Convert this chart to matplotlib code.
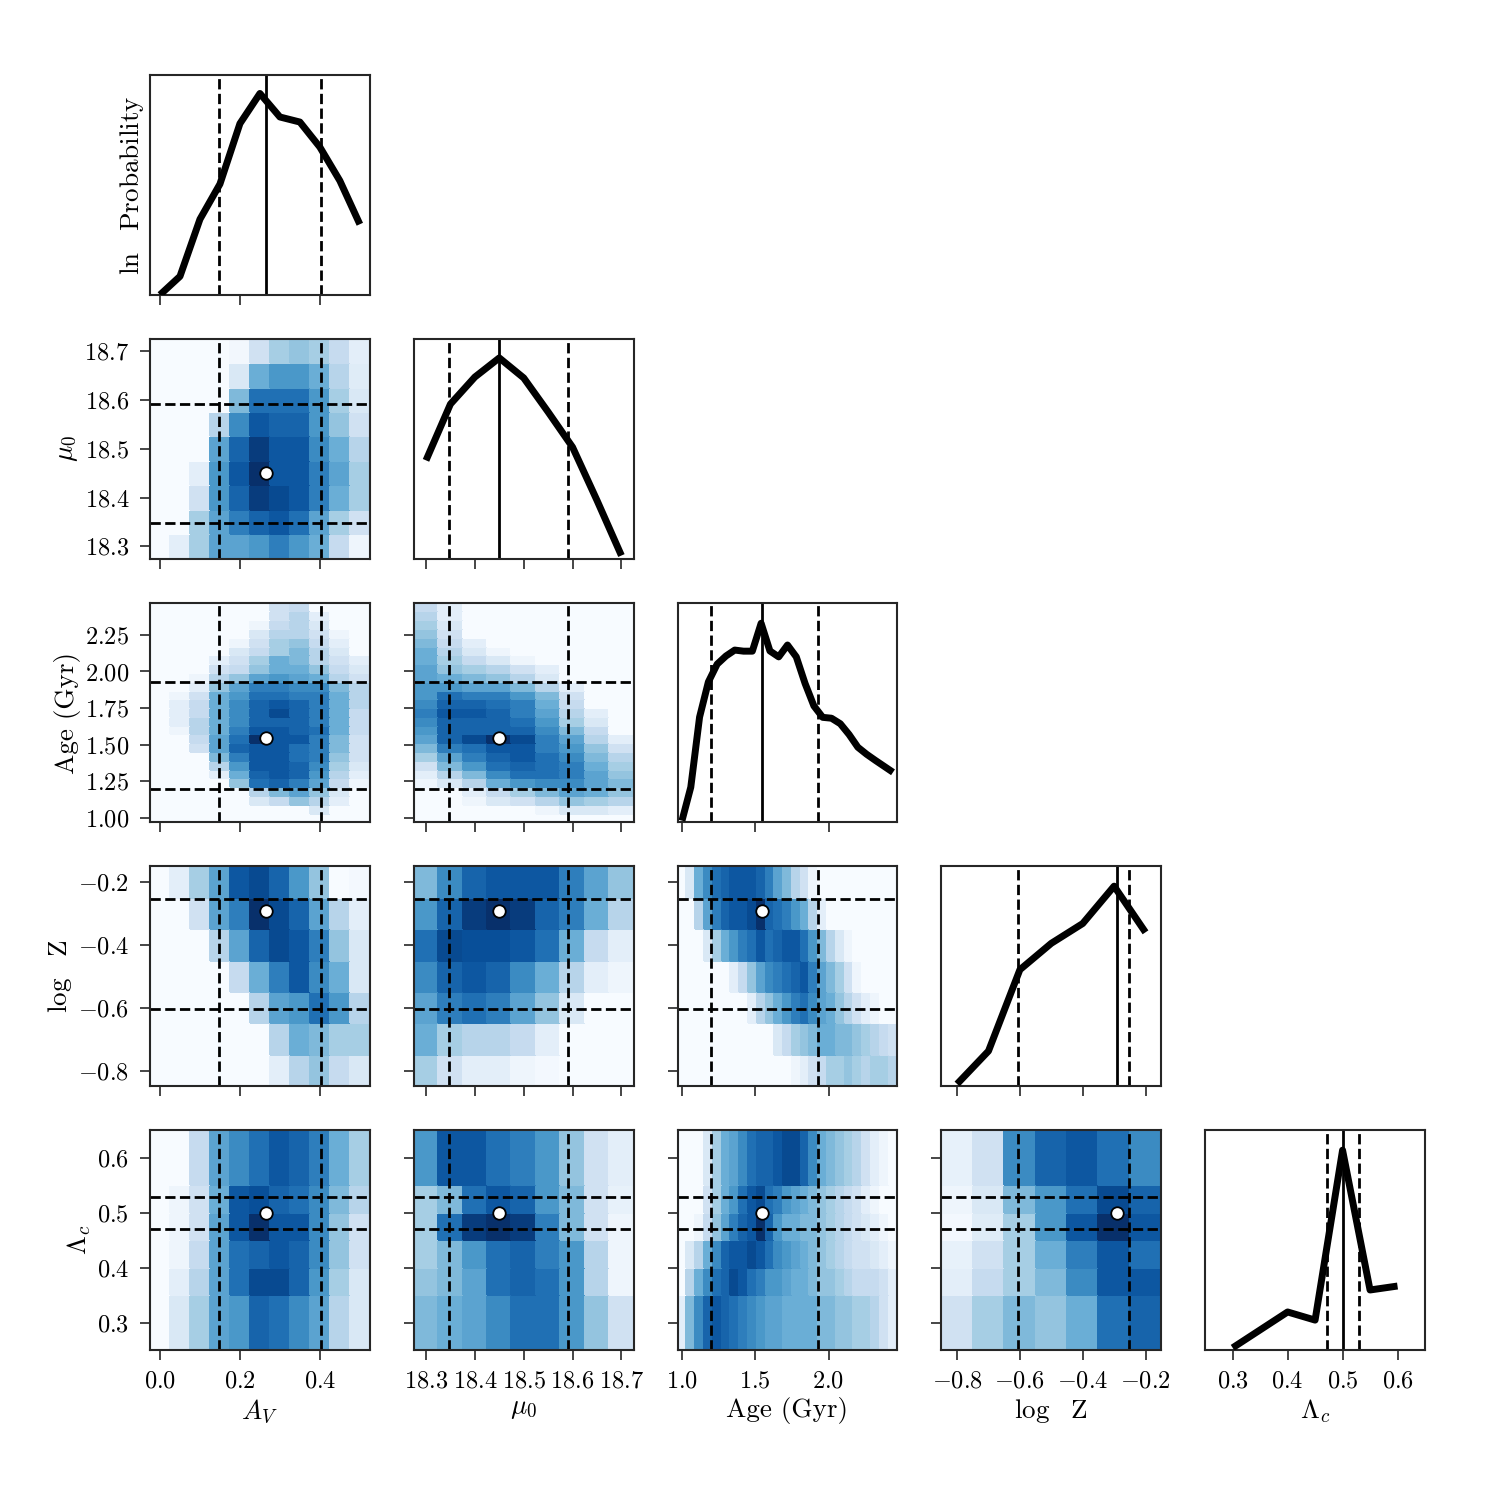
import numpy as np
import matplotlib
matplotlib.use("Agg")
import matplotlib.pyplot as plt

plt.rcParams["font.family"] = "serif"
plt.rcParams["font.serif"] = ["cmr10"]
plt.rcParams["mathtext.fontset"] = "cm"
plt.rcParams["axes.formatter.use_mathtext"] = True
plt.rcParams["axes.unicode_minus"] = True

# parameter grids (cell centres) and plot ranges
av_grid = [0.0, 0.05, 0.1, 0.15, 0.2, 0.25, 0.3, 0.35, 0.4, 0.45, 0.5]
mu_grid = [18.3, 18.35, 18.4, 18.45, 18.5, 18.55, 18.6, 18.65, 18.7]
age_grid = [1.0, 1.06, 1.12, 1.18, 1.24, 1.30, 1.36, 1.42, 1.48, 1.54, 1.60, 1.66, 1.72,
            1.78, 1.84, 1.90, 1.96, 2.02, 2.08, 2.14, 2.20, 2.26, 2.32, 2.38, 2.44]
logz_grid = [-0.8, -0.7, -0.6, -0.5, -0.4, -0.3, -0.2]
lam_grid = [0.3, 0.4, 0.45, 0.5, 0.55, 0.6]
lam_edges = [0.25, 0.35, 0.4, 0.45, 0.5, 0.55, 0.65]

names = [r"$A_V$", r"$\mu_0$", "Age (Gyr)", r"$\log$  Z", r"$\Lambda_c$"]
xticks = [[0.0, 0.2, 0.4], [18.3, 18.4, 18.5, 18.6, 18.7], [1.0, 1.5, 2.0],
          [-0.8, -0.6, -0.4, -0.2], [0.3, 0.4, 0.5, 0.6]]
yticks = [None, [18.3, 18.4, 18.5, 18.6, 18.7], [1.0, 1.25, 1.5, 1.75, 2.0, 2.25],
          [-0.8, -0.6, -0.4, -0.2], [0.3, 0.4, 0.5, 0.6]]

# 16th / 50th / 84th percentiles
av_q = [0.148, 0.264, 0.404]
mu_q = [18.347, 18.45, 18.591]
age_q = [1.197, 1.543, 1.926]
logz_q = [-0.605, -0.292, -0.254]
lam_q = [0.471, 0.5, 0.529]

# 1D marginals (relative ln probability)
av_prob = [0.0, 0.084, 0.344, 0.504, 0.779, 0.916, 0.809, 0.786, 0.672, 0.519, 0.321]
mu_prob = [0.447, 0.703, 0.826, 0.913, 0.822, 0.667, 0.507, 0.265, 0.014]
age_prob = [0.008, 0.16, 0.479, 0.639, 0.72, 0.757, 0.784, 0.779, 0.779, 0.906, 0.78, 0.753,
            0.807, 0.753, 0.632, 0.53, 0.478, 0.474, 0.449, 0.40, 0.342, 0.31, 0.282, 0.255, 0.228]
logz_prob = [0.01, 0.16, 0.53, 0.65, 0.74, 0.91, 0.70]
lam_prob = [0.01, 0.173, 0.136, 0.909, 0.273, 0.291]

# 2D marginals, rows listed top (high y) to bottom
mu_av = [
    [0, 0, 0, 0, 0.03, 0.2, 0.35, 0.4, 0.35, 0.25, 0.1],
    [0, 0, 0, 0, 0.15, 0.5, 0.6, 0.6, 0.5, 0.3, 0.12],
    [0, 0, 0, 0, 0.45, 0.75, 0.75, 0.75, 0.6, 0.35, 0.15],
    [0, 0, 0, 0.3, 0.65, 0.85, 0.8, 0.8, 0.6, 0.4, 0.2],
    [0, 0, 0, 0.55, 0.8, 0.95, 0.85, 0.85, 0.65, 0.5, 0.3],
    [0, 0, 0.1, 0.6, 0.85, 1.0, 0.85, 0.85, 0.7, 0.55, 0.35],
    [0, 0, 0.2, 0.6, 0.8, 0.95, 0.9, 0.85, 0.7, 0.5, 0.35],
    [0, 0, 0.35, 0.55, 0.7, 0.8, 0.85, 0.75, 0.55, 0.35, 0.2],
    [0, 0.1, 0.35, 0.55, 0.55, 0.6, 0.7, 0.6, 0.5, 0.25, 0.05],
]
age_av = [
    [0, 0, 0, 0, 0, 0, 0.2, 0.25, 0, 0, 0],
    [0, 0, 0, 0, 0, 0, 0.2, 0.3, 0.1, 0, 0],
    [0, 0, 0, 0, 0, 0.05, 0.25, 0.3, 0.15, 0, 0],
    [0, 0, 0, 0, 0, 0.15, 0.3, 0.3, 0.2, 0.05, 0],
    [0, 0, 0, 0, 0.05, 0.2, 0.35, 0.4, 0.25, 0.1, 0],
    [0, 0, 0, 0, 0.15, 0.25, 0.35, 0.45, 0.3, 0.15, 0],
    [0, 0, 0, 0.1, 0.2, 0.35, 0.5, 0.45, 0.3, 0.2, 0.1],
    [0, 0, 0, 0.2, 0.25, 0.4, 0.5, 0.5, 0.4, 0.25, 0.15],
    [0, 0, 0.05, 0.3, 0.4, 0.55, 0.6, 0.55, 0.5, 0.3, 0.2],
    [0, 0, 0.1, 0.4, 0.55, 0.7, 0.7, 0.65, 0.65, 0.45, 0.3],
    [0, 0.05, 0.2, 0.5, 0.6, 0.75, 0.75, 0.7, 0.7, 0.5, 0.3],
    [0, 0.1, 0.25, 0.5, 0.65, 0.8, 0.85, 0.8, 0.7, 0.5, 0.3],
    [0, 0.1, 0.25, 0.5, 0.65, 0.8, 0.9, 0.8, 0.7, 0.5, 0.25],
    [0, 0.1, 0.3, 0.5, 0.65, 0.8, 0.8, 0.8, 0.7, 0.5, 0.25],
    [0, 0.05, 0.3, 0.5, 0.7, 0.85, 0.85, 0.8, 0.75, 0.5, 0.25],
    [0, 0, 0.25, 0.55, 0.75, 1.0, 0.85, 0.85, 0.7, 0.45, 0.2],
    [0, 0, 0.2, 0.55, 0.8, 0.85, 0.85, 0.75, 0.7, 0.45, 0.2],
    [0, 0, 0, 0.45, 0.7, 0.85, 0.85, 0.75, 0.7, 0.4, 0.2],
    [0, 0, 0, 0.3, 0.6, 0.85, 0.85, 0.8, 0.65, 0.35, 0.15],
    [0, 0, 0, 0.1, 0.5, 0.8, 0.85, 0.8, 0.6, 0.3, 0.1],
    [0, 0, 0, 0, 0.4, 0.75, 0.8, 0.7, 0.55, 0.25, 0.05],
    [0, 0, 0, 0, 0, 0.3, 0.45, 0.55, 0.4, 0.15, 0],
    [0, 0, 0, 0, 0, 0.15, 0.25, 0.4, 0.3, 0.1, 0],
    [0, 0, 0, 0, 0, 0, 0, 0, 0.15, 0, 0],
    [0, 0, 0, 0, 0, 0, 0, 0, 0, 0, 0],
]
age_mu = [
    [0.25, 0.1, 0, 0, 0, 0, 0, 0, 0],
    [0.3, 0.1, 0, 0, 0, 0, 0, 0, 0],
    [0.35, 0.15, 0, 0, 0, 0, 0, 0, 0],
    [0.4, 0.2, 0, 0, 0, 0, 0, 0, 0],
    [0.45, 0.25, 0.1, 0, 0, 0, 0, 0, 0],
    [0.5, 0.3, 0.15, 0.05, 0, 0, 0, 0, 0],
    [0.5, 0.35, 0.25, 0.15, 0.05, 0, 0, 0, 0],
    [0.55, 0.4, 0.35, 0.3, 0.2, 0.1, 0, 0, 0],
    [0.55, 0.5, 0.45, 0.4, 0.3, 0.15, 0, 0, 0],
    [0.6, 0.6, 0.55, 0.55, 0.45, 0.3, 0.1, 0, 0],
    [0.6, 0.75, 0.7, 0.7, 0.6, 0.45, 0.2, 0, 0],
    [0.65, 0.8, 0.8, 0.75, 0.7, 0.5, 0.25, 0, 0],
    [0.7, 0.85, 0.85, 0.8, 0.7, 0.55, 0.3, 0.1, 0],
    [0.65, 0.8, 0.8, 0.8, 0.75, 0.6, 0.35, 0.15, 0],
    [0.6, 0.8, 0.8, 0.8, 0.8, 0.65, 0.45, 0.25, 0],
    [0.55, 0.8, 0.9, 1.0, 0.9, 0.7, 0.55, 0.3, 0.1],
    [0.45, 0.7, 0.75, 0.85, 0.85, 0.7, 0.6, 0.4, 0.2],
    [0.35, 0.55, 0.7, 0.8, 0.85, 0.75, 0.65, 0.45, 0.3],
    [0.2, 0.45, 0.6, 0.75, 0.8, 0.75, 0.7, 0.5, 0.35],
    [0.1, 0.3, 0.45, 0.65, 0.75, 0.75, 0.7, 0.55, 0.4],
    [0.05, 0.15, 0.3, 0.5, 0.6, 0.65, 0.65, 0.55, 0.45],
    [0, 0, 0.1, 0.25, 0.35, 0.45, 0.55, 0.5, 0.4],
    [0, 0, 0.05, 0.15, 0.2, 0.3, 0.4, 0.35, 0.3],
    [0, 0, 0, 0, 0, 0.05, 0.15, 0.15, 0.1],
    [0, 0, 0, 0, 0, 0, 0, 0, 0],
]
logz_av = [
    [0, 0.1, 0.35, 0.55, 0.85, 0.9, 0.8, 0.6, 0.4, 0, 0.02],
    [0, 0, 0.2, 0.55, 0.7, 1.0, 0.9, 0.8, 0.55, 0.3, 0.1],
    [0, 0, 0, 0.3, 0.55, 0.8, 0.9, 0.85, 0.7, 0.4, 0.15],
    [0, 0, 0, 0, 0.25, 0.5, 0.7, 0.85, 0.65, 0.5, 0.15],
    [0, 0, 0, 0, 0, 0.3, 0.55, 0.6, 0.75, 0.6, 0.3],
    [0, 0, 0, 0, 0, 0, 0.3, 0.5, 0.45, 0.35, 0.35],
    [0, 0, 0, 0, 0, 0, 0.1, 0.3, 0.4, 0.25, 0.15],
]
logz_mu = [
    [0.45, 0.65, 0.8, 0.85, 0.85, 0.85, 0.7, 0.55, 0.4],
    [0.6, 0.8, 0.95, 1.0, 0.95, 0.8, 0.7, 0.5, 0.3],
    [0.75, 0.9, 0.88, 0.88, 0.85, 0.75, 0.5, 0.25, 0.1],
    [0.65, 0.8, 0.85, 0.8, 0.65, 0.5, 0.3, 0.1, 0.05],
    [0.55, 0.7, 0.75, 0.7, 0.55, 0.4, 0.15, 0, 0],
    [0.5, 0.35, 0.3, 0.3, 0.25, 0.1, 0, 0, 0],
    [0.35, 0.2, 0.1, 0.1, 0.05, 0.02, 0, 0, 0],
]
logz_age = [
    [0, 0.15, 0.5, 0.65, 0.75, 0.8, 0.85, 0.85, 0.85, 0.8, 0.7, 0.55, 0.45,
     0.3, 0.2, 0.05, 0, 0, 0, 0, 0, 0, 0, 0, 0],
    [0, 0, 0.3, 0.55, 0.7, 0.8, 0.85, 0.85, 0.9, 1.0, 0.8, 0.75, 0.7,
     0.6, 0.5, 0.3, 0.1, 0, 0, 0, 0, 0, 0, 0, 0],
    [0, 0, 0, 0.15, 0.35, 0.5, 0.6, 0.7, 0.75, 0.85, 0.75, 0.8, 0.85,
     0.85, 0.75, 0.6, 0.45, 0.3, 0.15, 0.05, 0, 0, 0, 0, 0],
    [0, 0, 0, 0, 0, 0, 0.1, 0.25, 0.4, 0.55, 0.65, 0.7, 0.75,
     0.8, 0.85, 0.7, 0.55, 0.45, 0.35, 0.2, 0.05, 0, 0, 0, 0],
    [0, 0, 0, 0, 0, 0, 0, 0, 0.1, 0.3, 0.4, 0.5, 0.6,
     0.7, 0.75, 0.65, 0.55, 0.5, 0.4, 0.3, 0.2, 0.1, 0.05, 0, 0],
    [0, 0, 0, 0, 0, 0, 0, 0, 0, 0, 0, 0.15, 0.25,
     0.35, 0.4, 0.45, 0.5, 0.5, 0.45, 0.45, 0.4, 0.35, 0.3, 0.25, 0.2],
    [0, 0, 0, 0, 0, 0, 0, 0, 0, 0, 0, 0, 0,
     0.05, 0.1, 0.2, 0.25, 0.35, 0.35, 0.4, 0.35, 0.3, 0.35, 0.35, 0.3],
]
lam_av = [
    [0, 0, 0.25, 0.55, 0.65, 0.75, 0.85, 0.8, 0.7, 0.5, 0.35],
    [0, 0.05, 0.2, 0.5, 0.85, 0.88, 0.8, 0.75, 0.65, 0.45, 0.3],
    [0, 0.05, 0.2, 0.55, 0.85, 1.0, 0.85, 0.85, 0.65, 0.4, 0.2],
    [0, 0.05, 0.25, 0.55, 0.75, 0.8, 0.85, 0.8, 0.65, 0.4, 0.2],
    [0, 0.1, 0.3, 0.55, 0.75, 0.9, 0.9, 0.8, 0.6, 0.35, 0.15],
    [0, 0.15, 0.35, 0.55, 0.6, 0.8, 0.75, 0.65, 0.55, 0.3, 0.15],
]
lam_mu = [
    [0.6, 0.85, 0.85, 0.75, 0.7, 0.6, 0.4, 0.2, 0.1],
    [0.35, 0.45, 0.75, 0.85, 0.8, 0.6, 0.45, 0.2, 0.08],
    [0.35, 0.75, 0.95, 1.0, 0.95, 0.7, 0.45, 0.2, 0.05],
    [0.35, 0.45, 0.6, 0.75, 0.8, 0.7, 0.6, 0.3, 0.05],
    [0.4, 0.45, 0.55, 0.75, 0.8, 0.75, 0.6, 0.3, 0.05],
    [0.45, 0.5, 0.55, 0.65, 0.75, 0.75, 0.6, 0.4, 0.2],
]
lam_age = [
    [0, 0, 0, 0.15, 0.35, 0.5, 0.55, 0.65, 0.75, 0.8, 0.8, 0.85, 0.9,
     0.9, 0.8, 0.65, 0.5, 0.45, 0.4, 0.35, 0.3, 0.2, 0.1, 0.05, 0],
    [0, 0, 0, 0.2, 0.35, 0.5, 0.6, 0.75, 0.85, 0.9, 0.75, 0.7, 0.6,
     0.55, 0.5, 0.45, 0.4, 0.35, 0.3, 0.25, 0.2, 0.1, 0.05, 0, 0],
    [0, 0, 0.05, 0.25, 0.4, 0.55, 0.7, 0.8, 0.85, 1.0, 0.8, 0.6, 0.5,
     0.5, 0.45, 0.45, 0.4, 0.35, 0.3, 0.25, 0.2, 0.15, 0.1, 0.05, 0],
    [0, 0.15, 0.3, 0.5, 0.65, 0.8, 0.85, 0.85, 0.9, 0.85, 0.75, 0.65, 0.6,
     0.55, 0.5, 0.45, 0.4, 0.35, 0.3, 0.25, 0.2, 0.2, 0.15, 0.1, 0.05],
    [0, 0.3, 0.5, 0.65, 0.75, 0.8, 0.9, 0.85, 0.75, 0.7, 0.6, 0.6, 0.55,
     0.5, 0.5, 0.45, 0.4, 0.4, 0.35, 0.3, 0.25, 0.25, 0.25, 0.2, 0.1],
    [0.1, 0.45, 0.65, 0.8, 0.85, 0.8, 0.75, 0.7, 0.65, 0.6, 0.55, 0.55, 0.5,
     0.5, 0.5, 0.5, 0.45, 0.45, 0.4, 0.4, 0.35, 0.35, 0.3, 0.2, 0.1],
]
lam_logz = [
    [0.08, 0.2, 0.65, 0.8, 0.85, 0.75, 0.65],
    [0.05, 0.15, 0.45, 0.6, 0.75, 0.9, 0.8],
    [0.02, 0.12, 0.35, 0.6, 0.85, 1.0, 0.85],
    [0.08, 0.2, 0.35, 0.5, 0.7, 0.85, 0.75],
    [0.1, 0.25, 0.35, 0.45, 0.65, 0.85, 0.85],
    [0.2, 0.35, 0.45, 0.4, 0.5, 0.75, 0.8],
]


def centre_edges(c):
    c = np.asarray(c, float)
    mid = (c[1:] + c[:-1]) / 2
    return np.concatenate([[c[0] - (c[1] - c[0]) / 2], mid, [c[-1] + (c[-1] - c[-2]) / 2]])


grids = [av_grid, mu_grid, age_grid, logz_grid, lam_grid]
edges = [centre_edges(av_grid), centre_edges(mu_grid), centre_edges(age_grid),
         centre_edges(logz_grid), np.array(lam_edges)]
quants = [av_q, mu_q, age_q, logz_q, lam_q]
probs = [av_prob, mu_prob, age_prob, logz_prob, lam_prob]
maps2d = {(1, 0): mu_av, (2, 0): age_av, (2, 1): age_mu, (3, 0): logz_av,
          (3, 1): logz_mu, (3, 2): logz_age, (4, 0): lam_av, (4, 1): lam_mu,
          (4, 2): lam_age, (4, 3): lam_logz}

n = 5
fig, axes = plt.subplots(n, n, figsize=(15, 15), dpi=100)
fig.subplots_adjust(left=0.1, right=0.95, bottom=0.1, top=0.95, wspace=0.2, hspace=0.2)

for i in range(n):
    for j in range(n):
        ax = axes[i, j]
        if j > i:
            ax.axis("off")
            continue
        xe = edges[j]
        if i == j:
            ax.plot(grids[j], probs[j], color="k", lw=5, solid_capstyle="butt", zorder=3)
            ax.axvline(quants[j][0], color="k", ls="--", lw=2)
            ax.axvline(quants[j][1], color="k", ls="-", lw=2)
            ax.axvline(quants[j][2], color="k", ls="--", lw=2)
            ax.set_ylim(0, 1)
            ax.set_yticks([])
        else:
            ye = edges[i]
            z = np.flipud(np.array(maps2d[(i, j)], float))
            ax.pcolormesh(xe, ye, z, cmap="Blues", vmin=0, vmax=1,
                          shading="flat", edgecolors="face", linewidth=0.2)
            for q in (quants[j][0], quants[j][2]):
                ax.axvline(q, color="k", ls="--", lw=2)
            for q in (quants[i][0], quants[i][2]):
                ax.axhline(q, color="k", ls="--", lw=2)
            ax.plot(quants[j][1], quants[i][1], "o", mfc="white", mec="k",
                    ms=9, mew=1.3, zorder=4)
            ax.set_ylim(ye[0], ye[-1])
            ax.set_yticks(yticks[i])
            if j > 0:
                ax.set_yticklabels([])
        ax.set_xlim(xe[0], xe[-1])
        ax.set_xticks(xticks[j])
        if i < n - 1:
            ax.set_xticklabels([])
        else:
            ax.set_xlabel(names[j], fontsize=19.5, labelpad=3)
        if j == 0:
            ax.set_ylabel(names[i] if i > 0 else r"$\ln$  Probability", fontsize=19.5, labelpad=3)
        ax.tick_params(direction="out", length=7, width=1.2, labelsize=17.5, pad=8,
                       color="0.15")
        for s in ax.spines.values():
            s.set_linewidth(1.5)
            s.set_edgecolor("0.15")

fig.savefig("out.png", dpi=100)
